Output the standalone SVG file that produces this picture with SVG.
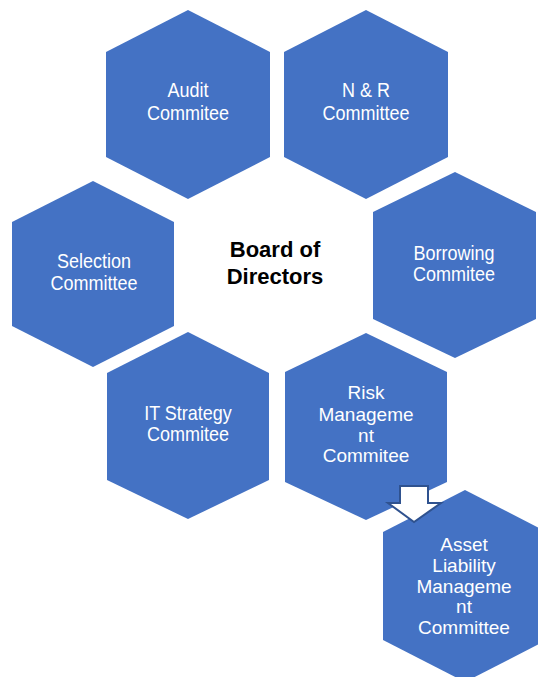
<svg xmlns="http://www.w3.org/2000/svg" width="538" height="677" viewBox="0 0 538 677">
  <style>
    .hex { fill: #4472C4; }
    .lbl { font-family: "Liberation Sans", Arial, sans-serif; font-size: 20px; fill: #FFFFFF; text-anchor: middle; }
    .lbl19 { font-size: 19px; }
    .title { font-family: "Liberation Sans", Arial, sans-serif; font-size: 22px; font-weight: bold; fill: #000000; text-anchor: middle; }
    .arrow { fill: #FFFFFF; stroke: #2F528F; stroke-width: 2; stroke-linejoin: miter; }
  </style>
  <rect width="538" height="677" fill="#FFFFFF"/>

  <g id="board">
    <text class="title" x="275" y="257">Board of</text>
    <text class="title" x="275" y="284">Directors</text>
  </g>

  <!-- two-line labels are slightly condensed: scale 0.9 horizontally about their centre -->
  <g id="audit">
    <polygon class="hex" points="188,10 270,52 270,157 188,199 106,157 106,52"/>
    <g transform="translate(18.8,0) scale(0.9,1)">
      <text class="lbl" x="188" y="97">Audit</text>
      <text class="lbl" x="188" y="120">Commitee</text>
    </g>
  </g>

  <g id="nr">
    <polygon class="hex" points="366,10 448,52 448,157 366,199 284,157 284,52"/>
    <g transform="translate(36.6,0) scale(0.9,1)">
      <text class="lbl" x="366" y="97">N &amp; R</text>
      <text class="lbl" x="366" y="120">Committee</text>
    </g>
  </g>

  <g id="selection">
    <polygon class="hex" points="93,181 174,222 174,326 93,367 12,326 12,222"/>
    <g transform="translate(9.4,0) scale(0.9,1)">
      <text class="lbl" x="94" y="268">Selection</text>
      <text class="lbl" x="94" y="290">Committee</text>
    </g>
  </g>

  <g id="borrowing">
    <polygon class="hex" points="455,172 536,212 536,319 455,358 373,319 373,212"/>
    <g transform="translate(45.4,0) scale(0.9,1)">
      <text class="lbl" x="454" y="260">Borrowing</text>
      <text class="lbl" x="454" y="281">Commitee</text>
    </g>
  </g>

  <g id="it-strategy">
    <polygon class="hex" points="188,332 269,373 269,480 188,519 107,480 107,373"/>
    <g transform="translate(18.8,0) scale(0.9,1)">
      <text class="lbl" x="188" y="420">IT Strategy</text>
      <text class="lbl" x="188" y="441">Commitee</text>
    </g>
  </g>

  <g id="risk">
    <polygon class="hex" points="366,333 447,372 447,482 366,520 285,482 285,372"/>
    <text class="lbl lbl19" x="366" y="399">Risk</text>
    <text class="lbl lbl19" x="366" y="421">Manageme</text>
    <text class="lbl lbl19" x="366" y="442">nt</text>
    <text class="lbl lbl19" x="366" y="462">Commitee</text>
  </g>

  <g id="asset-liability">
    <polygon class="hex" points="465,490 547,532 547,640 465,682 383,640 383,532"/>
    <text class="lbl lbl19" x="464" y="551">Asset</text>
    <text class="lbl lbl19" x="464" y="572">Liability</text>
    <text class="lbl lbl19" x="464" y="593">Manageme</text>
    <text class="lbl lbl19" x="464" y="613">nt</text>
    <text class="lbl lbl19" x="464" y="634">Committee</text>
  </g>

  <g id="connectors">
    <polygon class="arrow" points="400,486 428,486 428,503 441,503 414,522 388,503 400,503"/>
  </g>
</svg>
